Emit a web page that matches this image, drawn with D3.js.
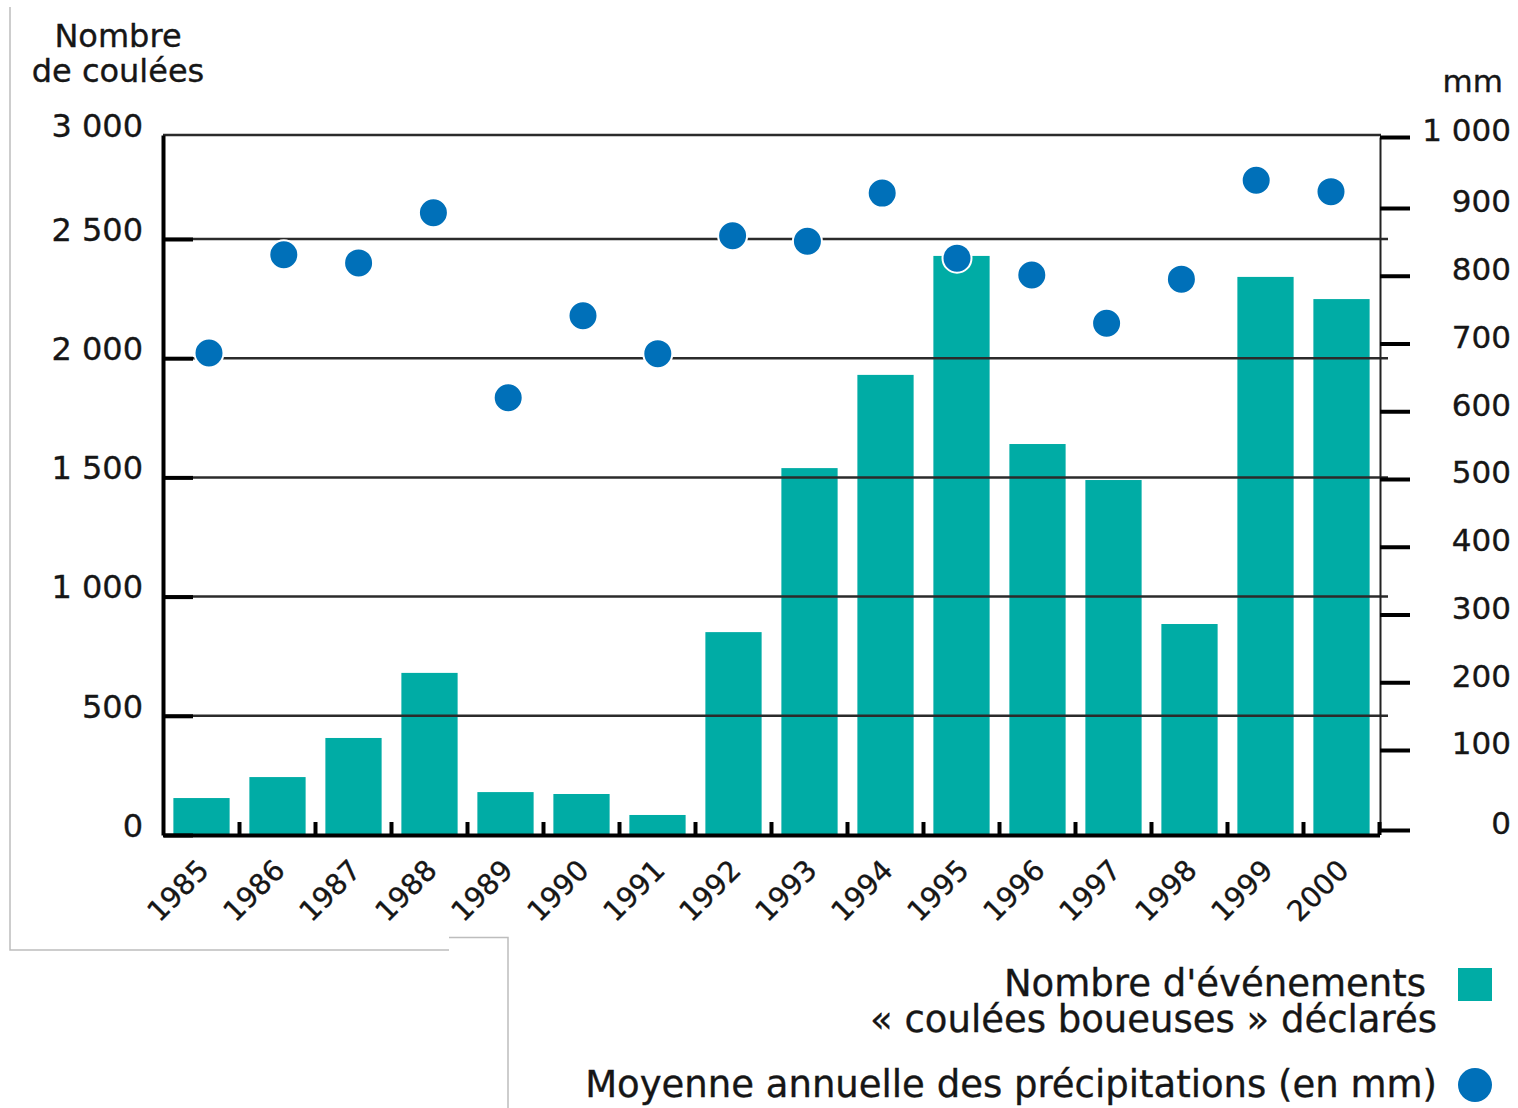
<!DOCTYPE html>
<html>
<head>
<meta charset="utf-8">
<script src="https://cdn.jsdelivr.net/npm/d3@7"></script>
<style>
body { margin: 0; background: #fff; }
text { font-family: "DejaVu Sans", sans-serif; fill: #161616; stroke: #161616; stroke-width: 0.35px; }
</style>
</head>
<body>
<svg width="1518" height="1108"></svg>
<script>
// data
var years = ["1985", "1986", "1987", "1988", "1989", "1990", "1991", "1992",
             "1993", "1994", "1995", "1996", "1997", "1998", "1999", "2000"];
// nombre de coulees declarees (bars, left axis)
var coulees = [155, 243, 407, 680, 180, 172, 84, 851,
               1539, 1930, 2429, 1640, 1489, 885, 2341, 2248];
// moyenne annuelle des precipitations en mm (dots, right axis)
var pluie = [686, 831, 819, 893, 620, 741, 685, 859,
             851, 921, 826, 801, 730, 795, 939, 923];
var leftTicks = [0, 500, 1000, 1500, 2000, 2500, 3000];
var rightTicks = [0, 100, 200, 300, 400, 500, 600, 700, 800, 900, 1000];

var teal = "#00aca5",
    blue = "#0070b9";

var svg = d3.select("svg");

// scales (the source figure is slightly stretched, hence the extra stops)
var x = d3.scaleBand()
        .domain(years)
        .range([163.5, 1379.5])
        .paddingInner(0.26)
        .paddingOuter(0.13);
// the dots sit on their own, slightly tighter spacing
var xDot = d3.scalePoint()
        .domain(years)
        .range([209, 1331]);
var yL = d3.scaleLinear()
        .domain([0, 2500, 3000])
        .range([835, 239, 135]);
var yR = d3.scaleLinear()
        .domain([0, 100, 900, 1000])
        .range([830, 750, 208, 137]);

var fmt = function (d) {
    return d3.format(",")(d).replace(",", " ");
};

// grey frame left over from the scan
svg.append("path")
        .attr("d", "M10,7V950H449")
        .attr("fill", "none")
        .attr("stroke", "#bdbdbd")
        .attr("stroke-width", 1.5);
svg.append("path")
        .attr("d", "M449,937.5H508V1108")
        .attr("fill", "none")
        .attr("stroke", "#bdbdbd")
        .attr("stroke-width", 1.5);

// bars
svg.append("g").selectAll("rect")
        .data(years)
        .enter()
        .append("rect")
        .attr("x", function (d) { return x(d); })
        .attr("width", x.bandwidth())
        .attr("y", function (d, i) { return yL(coulees[i]); })
        .attr("height", function (d, i) { return yL(0) - yL(coulees[i]); })
        .attr("fill", teal);

// horizontal grid lines, over the bars
svg.append("g").selectAll("line")
        .data(leftTicks.slice(1))
        .enter()
        .append("line")
        .attr("x1", 163)
        .attr("x2", function (d) { return d == 3000 ? 1381 : 1388; })
        .attr("y1", function (d) { return yL(d); })
        .attr("y2", function (d) { return yL(d); })
        .attr("stroke", "#2b2b2b")
        .attr("stroke-width", 2.5);

// left axis, ticks pointing inward
var yAxisL = d3.axisLeft(yL)
        .tickValues(leftTicks)
        .tickFormat(fmt)
        .tickSize(-30)
        .tickSizeOuter(0)
        .tickPadding(20);
var gL = svg.append("g")
        .attr("transform", "translate(163,0)")
        .call(yAxisL);
gL.select(".domain").attr("stroke", "#000").attr("stroke-width", 4);
gL.selectAll(".tick line")
        .attr("stroke", "#000")
        .attr("stroke-width", function (d) { return d == 3000 ? 0 : 4; });
gL.selectAll(".tick text")
        .attr("y", -9)
        .attr("font-size", 32)
        .attr("font-family", "DejaVu Sans")
        .attr("fill", "#161616");

// right axis (mm)
var yAxisR = d3.axisRight(yR)
        .tickValues(rightTicks)
        .tickFormat(fmt)
        .tickSize(30)
        .tickSizeOuter(0);
var gR = svg.append("g")
        .attr("transform", "translate(1380,0)")
        .call(yAxisR);
gR.select(".domain").attr("stroke", "#222").attr("stroke-width", 2);
gR.selectAll(".tick line").attr("stroke", "#000").attr("stroke-width", 4);
gR.selectAll(".tick text")
        .attr("x", 131)
        .attr("y", -6)
        .attr("text-anchor", "end")
        .attr("font-size", 31)
        .attr("font-family", "DejaVu Sans")
        .attr("fill", "#161616");

// bottom axis: baseline, small ticks between bars, slanted years
var xAxis = d3.axisBottom(x).tickSize(0).tickSizeOuter(0).tickFormat("");
var gX = svg.append("g")
        .attr("transform", "translate(0,835)")
        .call(xAxis);
gX.select(".domain").attr("stroke", "#000").attr("stroke-width", 4);

var gap = x.step() - x.bandwidth();
svg.append("g").selectAll("line")
        .data(years)
        .enter()
        .append("line")
        .attr("x1", function (d) { return x(d) + x.bandwidth() + gap / 2; })
        .attr("x2", function (d) { return x(d) + x.bandwidth() + gap / 2; })
        .attr("y1", 835)
        .attr("y2", 822)
        .attr("stroke", "#000")
        .attr("stroke-width", 4);

svg.append("g").selectAll("text")
        .data(years)
        .enter()
        .append("text")
        .text(function (d) { return d; })
        .attr("transform", function (d) {
            return "translate(" + (x(d) + x.bandwidth() / 2 + 9) + ",872) rotate(-45)";
        })
        .attr("text-anchor", "end")
        .attr("font-size", 28.5);

// precipitation dots
svg.append("g").selectAll("circle")
        .data(years)
        .enter()
        .append("circle")
        .attr("cx", function (d) { return xDot(d); })
        .attr("cy", function (d, i) { return yR(pluie[i]); })
        .attr("r", 14.5)
        .attr("fill", blue)
        .attr("stroke", "#fff")
        .attr("stroke-width", 2);

// axis titles
var title = svg.append("text")
        .attr("text-anchor", "middle")
        .attr("font-size", 32);
title.append("tspan").attr("x", 118).attr("y", 47).text("Nombre");
title.append("tspan").attr("x", 118).attr("y", 82).text("de coulées");

svg.append("text")
        .attr("x", 1503)
        .attr("y", 92)
        .attr("text-anchor", "end")
        .attr("font-size", 31)
        .text("mm");

// legend
var leg = svg.append("g");
var leg1 = leg.append("text")
        .attr("text-anchor", "end")
        .attr("font-size", 37);
leg1.append("tspan").attr("x", 1426).attr("y", 996).text("Nombre d'événements");
leg1.append("tspan").attr("x", 1437).attr("y", 1032).text("« coulées boueuses » déclarés");
leg.append("rect")
        .attr("x", 1458)
        .attr("y", 968)
        .attr("width", 34)
        .attr("height", 33)
        .attr("fill", teal);
leg.append("text")
        .attr("x", 1437)
        .attr("y", 1097)
        .attr("text-anchor", "end")
        .attr("font-size", 37)
        .text("Moyenne annuelle des précipitations (en mm)");
leg.append("circle")
        .attr("cx", 1475)
        .attr("cy", 1085)
        .attr("r", 17)
        .attr("fill", blue);
</script>
</body>
</html>
